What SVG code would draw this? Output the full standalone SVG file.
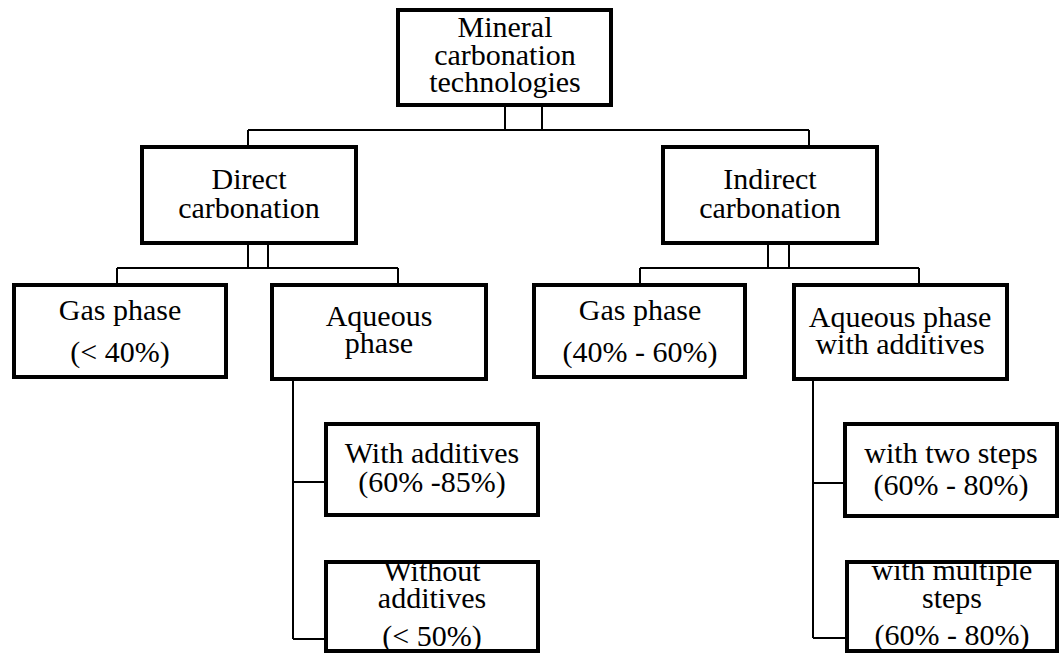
<svg xmlns="http://www.w3.org/2000/svg" width="1061" height="655" viewBox="0 0 1061 655">
<defs>
<marker id="none" markerWidth="1" markerHeight="1"/>
</defs>
<rect width="1061" height="655" fill="#fff"/>
<g id="connectors" fill="none" stroke="#000" stroke-width="2">
<path d="M505,107V130M542,107V130M248,130H809M248,130V146M809,130V146"/>
<path d="M248,245V268M268,245V268M117,268H398M117,268V284M398,268V284"/>
<path d="M768,245V268M789,245V268M640,268H919M640,268V284M919,268V284"/>
<path d="M293,381V639M293,482H325M293,639H325"/>
<path d="M813,381V638M813,483H844M813,638H846"/>
</g>
<g id="n-root"><rect fill="#fff" stroke="#000" stroke-width="4" x="398" y="10" width="213" height="95"/>
<text font-family="Liberation Serif" font-size="30" text-anchor="middle" x="505" y="37">Mineral</text>
<text font-family="Liberation Serif" font-size="30" text-anchor="middle" x="505" y="65">carbonation</text>
<text font-family="Liberation Serif" font-size="30" text-anchor="middle" x="505" y="92">technologies</text></g>
<g id="n-direct"><rect fill="#fff" stroke="#000" stroke-width="4" x="142" y="147" width="214" height="96"/>
<text font-family="Liberation Serif" font-size="30" text-anchor="middle" x="249" y="189">Direct</text>
<text font-family="Liberation Serif" font-size="30" text-anchor="middle" x="249" y="218">carbonation</text></g>
<g id="n-indirect"><rect fill="#fff" stroke="#000" stroke-width="4" x="663" y="147" width="214" height="96"/>
<text font-family="Liberation Serif" font-size="30" text-anchor="middle" x="770" y="189">Indirect</text>
<text font-family="Liberation Serif" font-size="30" text-anchor="middle" x="770" y="218">carbonation</text></g>
<g id="n-gas1"><rect fill="#fff" stroke="#000" stroke-width="4" x="14" y="285" width="212" height="92"/>
<text font-family="Liberation Serif" font-size="30" text-anchor="middle" x="120" y="320">Gas phase</text>
<text font-family="Liberation Serif" font-size="30" text-anchor="middle" x="120" y="362">(&lt; 40%)</text></g>
<g id="n-aq1"><rect fill="#fff" stroke="#000" stroke-width="4" x="272" y="285" width="214" height="94"/>
<text font-family="Liberation Serif" font-size="30" text-anchor="middle" x="379" y="326">Aqueous</text>
<text font-family="Liberation Serif" font-size="30" text-anchor="middle" x="379" y="353">phase</text></g>
<g id="n-gas2"><rect fill="#fff" stroke="#000" stroke-width="4" x="534" y="285" width="211" height="92"/>
<text font-family="Liberation Serif" font-size="30" text-anchor="middle" x="640" y="320">Gas phase</text>
<text font-family="Liberation Serif" font-size="30" text-anchor="middle" x="640" y="362">(40% - 60%)</text></g>
<g id="n-aq2"><rect fill="#fff" stroke="#000" stroke-width="4" x="794" y="285" width="213" height="94"/>
<text font-family="Liberation Serif" font-size="30" text-anchor="middle" x="900" y="327">Aqueous phase</text>
<text font-family="Liberation Serif" font-size="30" text-anchor="middle" x="900" y="354">with additives</text></g>
<g id="n-withadd"><rect fill="#fff" stroke="#000" stroke-width="4" x="326" y="424" width="212" height="91"/>
<text font-family="Liberation Serif" font-size="30" text-anchor="middle" x="432" y="463">With additives</text>
<text font-family="Liberation Serif" font-size="30" text-anchor="middle" x="432" y="492">(60% -85%)</text></g>
<g id="n-without"><rect fill="#fff" stroke="#000" stroke-width="4" x="326" y="562" width="212" height="89"/>
<text font-family="Liberation Serif" font-size="30" text-anchor="middle" x="432" y="581">Without</text>
<text font-family="Liberation Serif" font-size="30" text-anchor="middle" x="432" y="608">additives</text>
<text font-family="Liberation Serif" font-size="30" text-anchor="middle" x="432" y="646">(&lt; 50%)</text></g>
<g id="n-two"><rect fill="#fff" stroke="#000" stroke-width="4" x="845" y="424" width="212" height="92"/>
<text font-family="Liberation Serif" font-size="30" text-anchor="middle" x="951" y="463">with two steps</text>
<text font-family="Liberation Serif" font-size="30" text-anchor="middle" x="951" y="495">(60% - 80%)</text></g>
<g id="n-multi"><rect fill="#fff" stroke="#000" stroke-width="4" x="847" y="562" width="210" height="89"/>
<text font-family="Liberation Serif" font-size="30" text-anchor="middle" x="952" y="580">with multiple</text>
<text font-family="Liberation Serif" font-size="30" text-anchor="middle" x="952" y="608">steps</text>
<text font-family="Liberation Serif" font-size="30" text-anchor="middle" x="952" y="645">(60% - 80%)</text></g>
</svg>
